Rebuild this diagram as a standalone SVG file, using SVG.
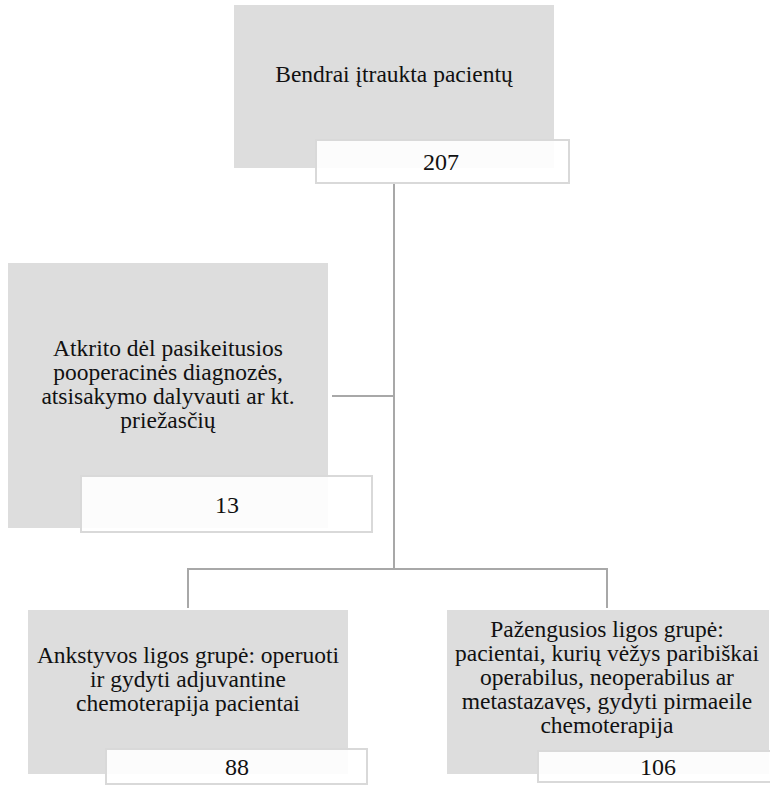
<svg xmlns="http://www.w3.org/2000/svg" width="770" height="785" viewBox="0 0 770 785">
<style>
.box{fill:#dddddd;}
.lbl{fill:#ffffff;fill-opacity:0.9;stroke:#d9d9d9;stroke-width:2;}
text{font-family:'Liberation Serif','Times New Roman',Times,serif;fill:#111;text-anchor:middle;}
.t{font-size:23.5px;}
.n{font-size:24px;}
.c{fill:none;stroke:#a8a8a8;stroke-width:2;}
</style>
<rect width="770" height="785" fill="#ffffff"/>
<g id="connectors">
<path class="c" d="M394,183 V569"/>
<path class="c" d="M332,396 H394"/>
<path class="c" d="M188,608 V569 H607 V608"/>
</g>
<g id="node-total">
<rect class="box" x="234" y="5" width="320" height="163"/>
<text class="t" x="394" y="82">Bendrai įtraukta pacientų</text>
<rect class="lbl" x="316" y="140" width="253" height="43"/>
<text class="n" x="441" y="170">207</text>
</g>
<g id="node-excluded">
<rect class="box" x="8" y="263" width="320" height="265"/>
<text class="t" x="168" y="356">Atkrito dėl pasikeitusios</text>
<text class="t" x="168" y="380">pooperacinės diagnozės,</text>
<text class="t" x="168" y="404">atsisakymo dalyvauti ar kt.</text>
<text class="t" x="168" y="428">priežasčių</text>
<rect class="lbl" x="81" y="476" width="291" height="56"/>
<text class="n" x="227" y="513">13</text>
</g>
<g id="node-early">
<rect class="box" x="28" y="610" width="320" height="164"/>
<text class="t" x="188" y="663">Ankstyvos ligos grupė: operuoti</text>
<text class="t" x="188" y="687">ir gydyti adjuvantine</text>
<text class="t" x="188" y="711">chemoterapija pacientai</text>
<rect class="lbl" x="106" y="749" width="261" height="35"/>
<text class="n" x="237" y="775">88</text>
</g>
<g id="node-advanced">
<rect class="box" x="447" y="610" width="322" height="164"/>
<text class="t" x="607" y="637">Pažengusios ligos grupė:</text>
<text class="t" x="607" y="661">pacientai, kurių vėžys paribiškai</text>
<text class="t" x="607" y="685">operabilus, neoperabilus ar</text>
<text class="t" x="607" y="709">metastazavęs, gydyti pirmaeile</text>
<text class="t" x="607" y="733">chemoterapija</text>
<rect class="lbl" x="538" y="751" width="240" height="31"/>
<text class="n" x="658" y="775">106</text>
</g>
</svg>
